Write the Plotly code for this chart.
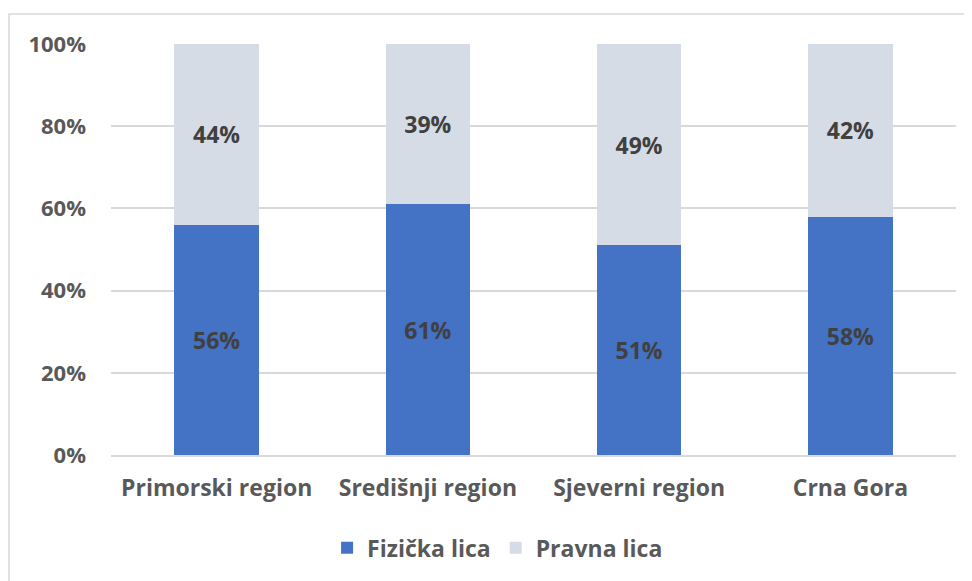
import plotly.graph_objects as go

categories = ["Primorski region", "Središnji region", "Sjeverni region", "Crna Gora"]
fizicka = [56, 61, 51, 58]
pravna = [44, 39, 49, 42]
tick_vals = [0, 20, 40, 60, 80, 100]
tick_text = ["0%", "20%", "40%", "60%", "80%", "100%"]

FONT = "Open Sans"
fig = go.Figure()
fig.add_trace(go.Bar(
    x=categories, y=fizicka, name="Fizička lica",
    marker=dict(color="#4472C4", line=dict(width=0)),
    text=[f"{v}%" for v in fizicka], textposition="inside", insidetextanchor="middle",
    textfont=dict(family=FONT, size=23, color="#404040", weight="bold"),
))
fig.add_trace(go.Bar(
    x=categories, y=pravna, name="Pravna lica",
    marker=dict(color="#D6DCE5", line=dict(width=0)),
    text=[f"{v}%" for v in pravna], textposition="inside", insidetextanchor="middle",
    textfont=dict(family=FONT, size=23, color="#404040", weight="bold"),
))

fig.update_layout(
    barmode="stack", bargap=0.6,
    width=972, height=581,
    margin=dict(l=103, r=24, t=36, b=134),
    paper_bgcolor="white", plot_bgcolor="white",
    font=dict(family=FONT, size=22, color="#595959", weight="bold"),
    showlegend=True,
    legend=dict(orientation="h", x=0.4575, xanchor="center", y=-0.226, yanchor="middle",
                font=dict(family=FONT, size=23, color="#595959", weight="bold"),
                itemsizing="constant", traceorder="normal"),
    uniformtext=dict(mode="show", minsize=10),
)
fig.update_yaxes(range=[0, 100], tickvals=tick_vals, ticktext=tick_text,
                 showgrid=True, gridcolor="#D9D9D9", gridwidth=1.5,
                 zeroline=False, ticks="", ticklabelstandoff=24,
                 tickfont=dict(family=FONT, size=22, color="#595959", weight="bold"))
fig.update_xaxes(showline=True, linecolor="#D9D9D9", linewidth=1.5,
                 ticks="", tickfont=dict(family=FONT, size=23, color="#595959", weight="bold"),
                 ticklabelstandoff=12)
fig.add_shape(type="rect", xref="paper", yref="paper",
              x0=-0.1207, x1=1.04, y0=-0.35, y1=1.073,
              line=dict(color="#D9D9D9", width=1.5), fillcolor="rgba(0,0,0,0)", layer="below")

fig.write_html("out.html")
